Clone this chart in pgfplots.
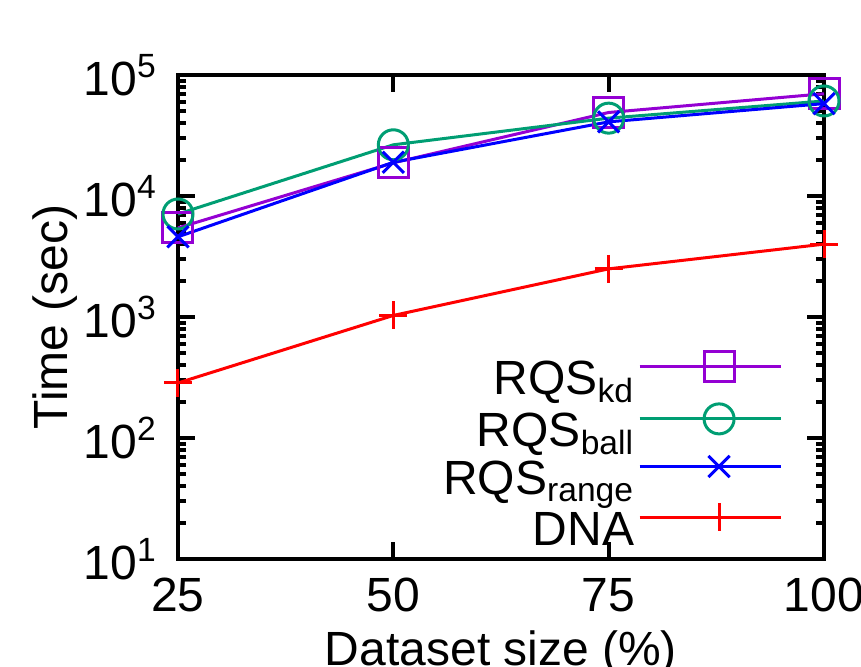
\documentclass[border=0pt]{standalone}
\usepackage{pgfplots}
\pgfplotsset{compat=1.18}
\usepackage{fontspec}
\setmainfont{Liberation Sans}
\definecolor{cKd}{HTML}{9400D3}
\definecolor{cBall}{HTML}{009E73}
\definecolor{cRange}{HTML}{0000FF}
\definecolor{cDNA}{HTML}{FF0000}
\newcommand{\bigfont}{\fontsize{24}{28}\selectfont}
\begin{document}
\begin{tikzpicture}
\useasboundingbox (-89pt,-54pt) rectangle (341.5pt,279.5pt);
\begin{axis}[
  at={(0pt,0pt)}, anchor=south west,
  scale only axis, width=323pt, height=242pt,
  ymode=log, xmin=25, xmax=100, ymin=10, ymax=1e5,
  xtick={25,50,75,100},
  ytick={10,100,1000,10000,100000},
  yticklabels={10\textsuperscript{1},10\textsuperscript{2},10\textsuperscript{3},10\textsuperscript{4},10\textsuperscript{5}},
  xticklabels={25,50,75,100},
  tick label style={font=\bigfont},
  xticklabel style={yshift=-6pt},
  yticklabel style={xshift=-7pt},
  axis line style={line width=2pt},
  major tick length=8.5pt, minor tick length=4pt,
  every tick/.style={black, line width=2pt},
  tick align=inside,
  xlabel={Dataset size (\%)}, ylabel={Time (sec)},
  every axis x label/.style={at={(axis description cs:0.5,-0.22)}, anchor=base, font=\bigfont},
  every axis y label/.style={at={(axis description cs:-0.19,0.5)}, anchor=center, rotate=90, font=\bigfont},
  clip=false,
  legend plot pos=right,
  legend cell align=right,
  legend style={at={(axis description cs:0.945,-0.006)}, anchor=south east, draw=none, fill=none,
    font=\bigfont, row sep=-1.5pt,
    nodes={inner sep=2pt, text height=17pt, text depth=4pt}},
  legend image code/.code={
    \path (0pt,7.5pt) -- (9pt,7.5pt);
    \draw[mark repeat=2,mark phase=2,#1,yshift=7.5pt] plot coordinates {(9pt,0pt) (39.75pt,0pt) (70.5pt,0pt)};
  },
]
\addplot[cKd, line width=1.5pt, mark=square, mark size=7.5pt, mark options={line width=1.5pt}]
  coordinates {(25,5450) (50,18800) (75,49000) (100,70000)};
\addlegendentry{RQS\textsubscript{kd}}
\addplot[cBall, line width=1.5pt, mark=o, mark size=7.5pt, mark options={line width=1.5pt}]
  coordinates {(25,7100) (50,26500) (75,44000) (100,61000)};
\addlegendentry{RQS\textsubscript{ball}}
\addplot[cRange, line width=1.5pt, mark=x, mark size=7.5pt, mark options={line width=1.5pt}]
  coordinates {(25,4600) (50,19000) (75,41000) (100,58000)};
\addlegendentry{RQS\textsubscript{range}}
\addplot[cDNA, line width=1.5pt, mark=+, mark size=7pt, mark options={line width=1.5pt}]
  coordinates {(25,285) (50,1030) (75,2500) (100,4000)};
\addlegendentry{DNA}
\end{axis}
\end{tikzpicture}
\end{document}
